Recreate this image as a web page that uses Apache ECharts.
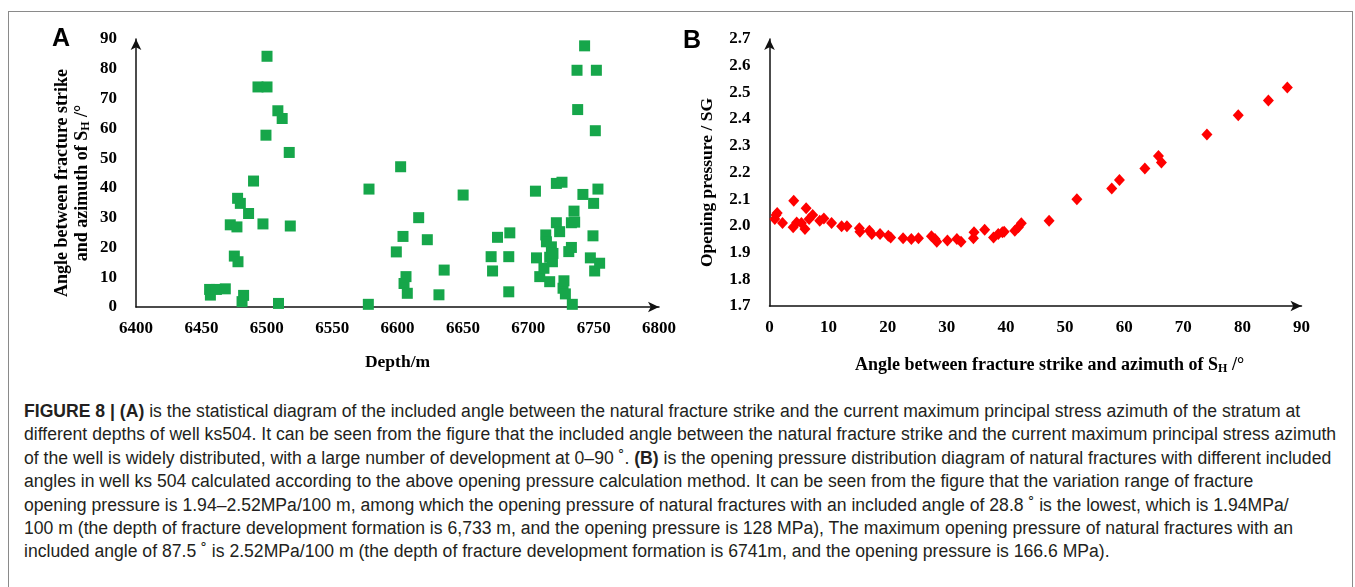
<!DOCTYPE html>
<html>
<head>
<meta charset="utf-8">
<script src="https://cdn.jsdelivr.net/npm/echarts@6/dist/echarts.min.js"></script>
<style>
  html, body { margin: 0; padding: 0; background: #fff; }
  #wrap { position: relative; width: 1355px; height: 587px; overflow: hidden; }
  #frame { position: absolute; left: 8px; top: 11px; width: 1345px; height: 600px; border: 1.5px solid #8a8a8a; box-sizing: border-box; }
  #chart { position: absolute; left: 0; top: 0; width: 1355px; height: 380px; }
  #caption { position: absolute; left: 24px; top: 400px; width: 1330px; font-family: "Liberation Sans", Arial, sans-serif; font-size: 17.6px; line-height: 23.4px; color: #231f20; white-space: nowrap; }
  #caption b { font-weight: bold; }
</style>
</head>
<body>
<div id="wrap">
  <div id="frame"></div>
  <div id="chart"></div>
  <div id="caption">
    <b>FIGURE 8 | (A)</b> is the statistical diagram of the included angle between the natural fracture strike and the current maximum principal stress azimuth of the stratum at<br>
    different depths of well ks504. It can be seen from the figure that the included angle between the natural fracture strike and the current maximum principal stress azimuth<br>
    of the well is widely distributed, with a large number of development at 0–90 ˚. <b>(B)</b> is the opening pressure distribution diagram of natural fractures with different included<br>
    angles in well ks 504 calculated according to the above opening pressure calculation method. It can be seen from the figure that the variation range of fracture<br>
    opening pressure is 1.94–2.52MPa/100 m, among which the opening pressure of natural fractures with an included angle of 28.8 ˚ is the lowest, which is 1.94MPa/<br>
    100 m (the depth of fracture development formation is 6,733 m, and the opening pressure is 128 MPa), The maximum opening pressure of natural fractures with an<br>
    included angle of 87.5 ˚ is 2.52MPa/100 m (the depth of fracture development formation is 6741m, and the opening pressure is 166.6 MPa).
  </div>
</div>
<script>
// panel A: depth (m) vs angle (°)
const depthA = [6456.3, 6456.9, 6461.5, 6468.3, 6472.1, 6475.2, 6477.2, 6477.7, 6478, 6479.8,
  6481.1, 6482.3, 6486.1, 6489.9, 6493.3, 6497.1, 6499.4, 6500.2, 6500.2, 6508.5,
  6509, 6511.8, 6517.2, 6518, 6577.7, 6578.2, 6599.1, 6602.4, 6604.2, 6605,
  6606.5, 6607.5, 6616.2, 6622.8, 6631.7, 6635.7, 6650.2, 6671.6, 6672.7, 6676.5,
  6685.1, 6685.1, 6685.9, 6705.5, 6706.3, 6708.8, 6712, 6713.4, 6713.9, 6716.4,
  6716.4, 6717.7, 6718.5, 6718.9, 6721.5, 6721.5, 6724, 6725.8, 6726.6, 6727.3,
  6728.4, 6731, 6733, 6733, 6733.7, 6735, 6735.5, 6737.3, 6737.8, 6741.8,
  6743.1, 6747.5, 6749.5, 6750, 6750.8, 6751.3, 6752.1, 6753.3, 6754.6];
const angleA = [5.9, 4.0, 5.9, 6.1, 27.6, 17.1, 26.9, 36.5, 15.2, 34.8,
  1.8, 3.9, 31.4, 42.3, 73.9, 27.9, 57.7, 73.9, 84.2, 65.9,
  1.2, 63.3, 51.9, 27.2, 0.9, 39.6, 18.5, 47.1, 23.7, 7.9,
  10.2, 4.6, 30.0, 22.6, 4.1, 12.4, 37.6, 16.9, 12.1, 23.4,
  16.9, 5.1, 24.9, 38.9, 16.5, 10.2, 13.0, 24.2, 21.9, 8.5,
  16.7, 20.2, 15.2, 18.0, 41.5, 28.3, 25.3, 41.9, 6.3, 8.8,
  4.4, 18.6, 20.0, 28.3, 0.9, 32.2, 28.5, 79.5, 66.3, 37.8,
  87.7, 16.5, 23.9, 34.8, 12.1, 59.2, 79.5, 39.6, 14.7];

// panel B: angle (°) vs opening pressure (SG)
const angleB = [0.9, 1.1, 1.3, 2.2, 4.0, 4.1, 4.6, 5.4, 6.0, 6.2,
  6.7, 7.3, 8.5, 9.2, 10.5, 12.2, 13.1, 15.2, 15.3, 16.9,
  17.3, 18.7, 20.1, 20.5, 22.6, 24.0, 25.2, 27.4, 28.0, 28.3,
  30.1, 31.7, 32.4, 34.5, 34.6, 36.4, 37.9, 38.7, 39.4, 39.7,
  41.5, 42.1, 42.6, 47.3, 52.0, 57.9, 59.2, 63.5, 65.8, 66.3,
  74.0, 79.3, 84.4, 87.6];
const pressureB = [2.026, 2.041, 2.048, 2.011, 1.995, 2.094, 2.013, 2.011, 1.988, 2.066,
  2.026, 2.041, 2.019, 2.028, 2.011, 1.999, 1.999, 1.991, 1.978, 1.982,
  1.970, 1.970, 1.963, 1.957, 1.954, 1.951, 1.954, 1.961, 1.951, 1.941,
  1.945, 1.951, 1.941, 1.954, 1.976, 1.986, 1.957, 1.970, 1.976, 1.978,
  1.982, 1.995, 2.010, 2.019, 2.100, 2.140, 2.172, 2.215, 2.262, 2.237,
  2.342, 2.414, 2.470, 2.518];

var myChart = echarts.init(document.getElementById('chart'));

const serif = '"Liberation Serif", "Times New Roman", serif';
const labelStyle = { fontFamily: serif, fontWeight: 'bold', fontSize: 17, color: '#000' };
const nameStyle = { fontFamily: serif, fontWeight: 'bold', fontSize: 17.5, color: '#000' };
const lineStyle = { color: '#111', width: 1.5 };

function axis(min, max, interval, extra) {
    return Object.assign({
        type: 'value',
        min: min,
        max: max,
        interval: interval,
        axisLine: { show: true, symbol: ['none', 'arrow'], symbolSize: [8, 11], lineStyle: lineStyle },
        axisTick: { show: false },
        splitLine: { show: false },
        axisLabel: Object.assign({ margin: 19, formatter: v => String(v) }, labelStyle)
    }, extra);
}

const subRich = {
    t: { fontFamily: serif, fontWeight: 'bold', fontSize: 18, color: '#000' },
    s: { fontFamily: serif, fontWeight: 'bold', fontSize: 12, color: '#000', padding: [8, 0, 0, 0] }
};

const option = {
    animation: false,
    graphic: [
        { type: 'text', left: 52, top: 27, style: { text: 'A', font: 'bold 25px "Liberation Sans", Arial', fill: '#000' } },
        { type: 'text', left: 683, top: 29, style: { text: 'B', font: 'bold 25px "Liberation Sans", Arial', fill: '#000' } }
    ],
    grid: [
        { left: 136, top: 39, width: 523, height: 268 },
        { left: 769.5, top: 39, width: 532, height: 268 }
    ],
    xAxis: [
        axis(6400, 6800, 50, {
            gridIndex: 0, name: 'Depth/m', nameLocation: 'middle', nameGap: 46,
            nameTextStyle: nameStyle,
            axisLabel: Object.assign({ margin: 13, formatter: v => String(v) }, labelStyle)
        }),
        axis(0, 90, 10, {
            gridIndex: 1, nameLocation: 'middle', nameGap: 49,
            name: '{t|Angle between fracture strike and azimuth of S}{s|H}{t| /°}',
            nameTextStyle: { rich: subRich, padding: [0, 0, 0, 28] },
            axisLabel: Object.assign({ margin: 13, formatter: v => String(v) }, labelStyle)
        })
    ],
    yAxis: [
        axis(0, 90, 10, {
            gridIndex: 0, nameLocation: 'middle', nameGap: 44,
            name: '{t|Angle between fracture strike}\n{t|and azimuth of S}{s|H}{t| /°}',
            nameTextStyle: { rich: subRich, lineHeight: 20, padding: [0, 20, 0, 0] }
        }),
        axis(1.7, 2.7, 0.1, {
            gridIndex: 1, name: 'Opening pressure / SG', nameLocation: 'middle', nameGap: 53,
            nameTextStyle: Object.assign({ padding: [0, 20, 0, 0] }, nameStyle),
            axisLabel: Object.assign({ margin: 19, formatter: v => v.toFixed(1) }, labelStyle)
        })
    ],
    series: [
        {
            type: 'scatter',
            xAxisIndex: 0, yAxisIndex: 0,
            symbol: 'rect',
            symbolSize: 11,
            itemStyle: { color: '#16a64a', opacity: 1 },
            data: depthA.map((d, i) => [d, angleA[i]])
        },
        {
            type: 'scatter',
            xAxisIndex: 1, yAxisIndex: 1,
            symbol: 'diamond',
            symbolSize: [11, 12],
            itemStyle: { color: '#ff0000', opacity: 1 },
            data: angleB.map((a, i) => [a, pressureB[i]])
        }
    ]
};

myChart.setOption(option);

window.addEventListener('resize', function() {
    myChart.resize();
});
</script>
</body>
</html>
